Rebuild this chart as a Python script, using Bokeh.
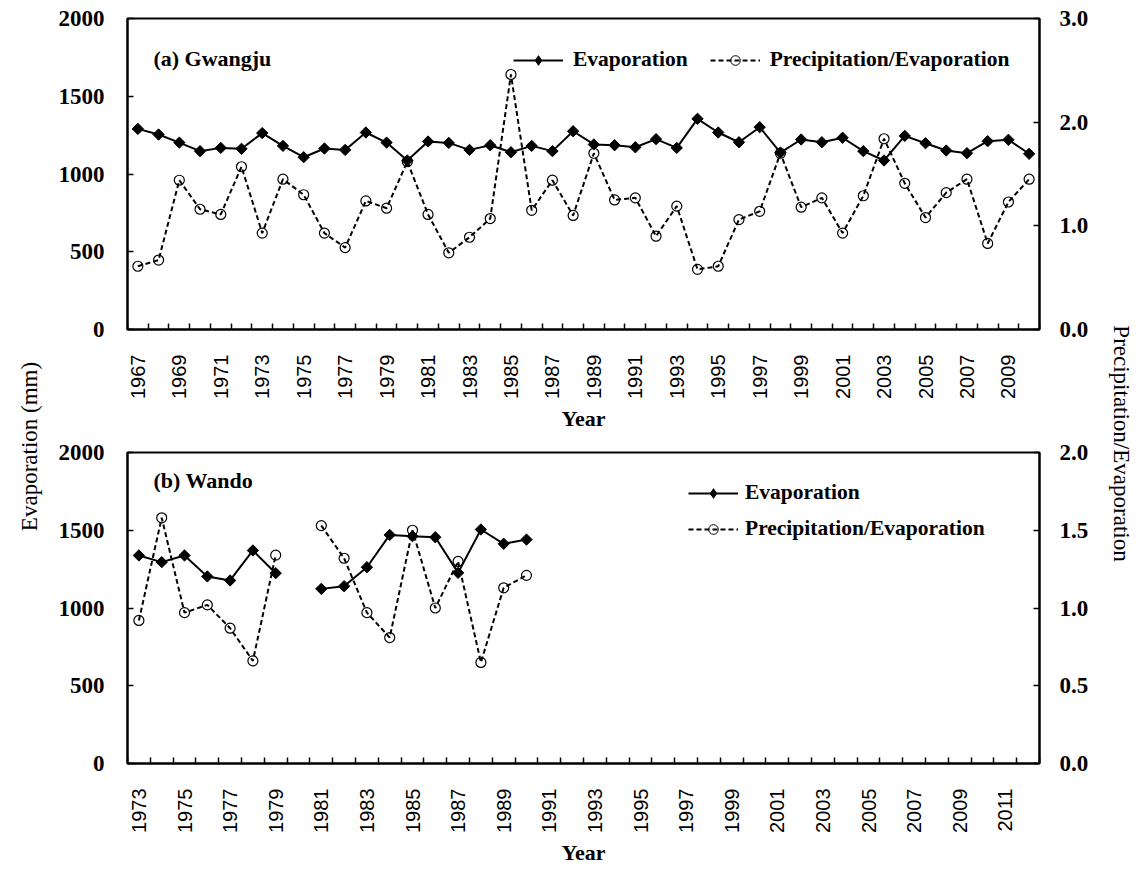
import numpy as np
from math import pi
from bokeh.plotting import figure
from bokeh.models import (Range1d, LinearAxis, FixedTicker, NumeralTickFormatter,
                          Legend, LegendItem, Label, ColumnDataSource)
from bokeh.layouts import row, column
from bokeh.embed import file_html
from bokeh.resources import INLINE

# ---------------- data ----------------
years_a = list(range(1967, 2011))
evap_a = [1290, 1254, 1202, 1147, 1168, 1162, 1263, 1181, 1108, 1164, 1155, 1267, 1202, 1087, 1209,
          1200, 1155, 1185, 1140, 1181, 1147, 1275, 1190, 1185, 1172, 1224, 1168, 1355, 1267, 1204,
          1301, 1138, 1222, 1204, 1233, 1147, 1087, 1245, 1198, 1151, 1134, 1211, 1220, 1130]
ratio_a = [0.61, 0.67, 1.44, 1.16, 1.11, 1.57, 0.93, 1.45, 1.30, 0.93, 0.79, 1.24, 1.17, 1.62, 1.11,
           0.74, 0.89, 1.07, 2.46, 1.15, 1.44, 1.10, 1.70, 1.25, 1.27, 0.90, 1.19, 0.58, 0.61, 1.06,
           1.14, 1.70, 1.18, 1.27, 0.93, 1.29, 1.84, 1.41, 1.08, 1.32, 1.45, 0.83, 1.23, 1.45]

years_b = list(range(1973, 1991))
evap_b = [1338, 1295, 1338, 1203, 1177, 1370, 1224, np.nan, 1123, 1140, 1262, 1470, 1462, 1455,
          1226, 1505, 1413, 1440]
ratio_b = [0.92, 1.58, 0.97, 1.02, 0.87, 0.66, 1.34, np.nan, 1.53, 1.32, 0.97, 0.81, 1.50, 1.00,
           1.30, 0.65, 1.13, 1.21]

label_a = "(a) Gwangju"
label_b = "(b) Wando"
ylabel_left = "Evaporation (mm)"
ylabel_right = "Precipitation/Evaporation"
xlabel = "Year"
series_names = ["Evaporation", "Precipitation/Evaporation"]

SERIF = "Liberation Serif"
SANS = "Liberation Sans"


def make_panel(years, evap, ratio, xstart, xend, ratio_max, ratio_ticks, title, title_x, title_y,
               legend_loc, legend_orient, legend_standoff, legend_spacing, height, top_border,
               bottom_border):
    p = figure(width=1045, height=height,
               x_range=Range1d(xstart - 0.5, xend + 0.5), y_range=Range1d(0, 2000),
               toolbar_location=None, output_backend="svg",
               min_border_left=72, min_border_right=61,
               min_border_top=top_border, min_border_bottom=bottom_border)
    p.extra_y_ranges = {"ratio": Range1d(0, ratio_max)}
    p.grid.visible = False
    p.outline_line_color = "black"
    p.outline_line_width = 2
    p.background_fill_color = "white"

    # x axis
    xa = p.xaxis[0]
    xa.ticker = FixedTicker(ticks=list(range(xstart, xend + 1, 2)),
                            minor_ticks=[y - 0.5 for y in range(xstart, xend + 2)])
    xa.major_tick_line_color = None
    xa.minor_tick_line_color = "black"
    xa.minor_tick_line_width = 1.5
    xa.minor_tick_in = 6
    xa.minor_tick_out = 0
    xa.axis_line_width = 2
    xa.major_label_orientation = pi / 2
    xa.major_label_text_font = SANS
    xa.major_label_text_font_size = "20px"
    xa.major_label_text_color = "black"
    xa.major_label_standoff = 19
    xa.axis_label = xlabel
    xa.axis_label_text_font = SERIF
    xa.axis_label_text_font_style = "bold"
    xa.axis_label_text_font_size = "22px"
    xa.axis_label_text_color = "black"
    xa.axis_label_standoff = 4

    # left axis
    ya = p.yaxis[0]
    ya.ticker = FixedTicker(ticks=[0, 500, 1000, 1500, 2000])
    ya.major_tick_in = 6
    ya.major_tick_out = 0
    ya.major_tick_line_width = 1.5
    ya.minor_tick_line_color = None
    ya.axis_line_width = 2
    ya.major_label_text_font = SERIF
    ya.major_label_text_font_style = "bold"
    ya.major_label_text_font_size = "23px"
    ya.major_label_text_color = "black"
    ya.major_label_standoff = 23

    # right axis
    ra = LinearAxis(y_range_name="ratio", ticker=FixedTicker(ticks=ratio_ticks),
                    formatter=NumeralTickFormatter(format="0.0"))
    ra.major_tick_in = 6
    ra.major_tick_out = 0
    ra.major_tick_line_width = 1.5
    ra.minor_tick_line_color = None
    ra.axis_line_width = 2
    ra.major_label_text_font = SERIF
    ra.major_label_text_font_style = "bold"
    ra.major_label_text_font_size = "23px"
    ra.major_label_text_color = "black"
    ra.major_label_standoff = 20
    p.add_layout(ra, "right")

    src = ColumnDataSource(dict(year=np.array(years, dtype=float),
                                evap=np.array(evap, dtype=float),
                                ratio=np.array(ratio, dtype=float)))
    l1 = p.line("year", "evap", source=src, line_color="black", line_width=2)
    p.scatter("year", "evap", source=src, marker="square", angle=pi / 4, size=8,
              fill_color="black", line_color="black")
    l2 = p.line("year", "ratio", source=src, y_range_name="ratio", line_color="black",
                line_width=2, line_dash="5 3")
    p.scatter("year", "ratio", source=src, y_range_name="ratio", marker="circle", size=10,
              fill_color=None, line_color="black", line_width=1.2)
    # legend-only marker glyphs (not drawn in the plot area)
    k1 = p.scatter("year", "evap", source=src, marker="diamond", size=11,
                   fill_color="black", line_color="black", visible=False)
    k2 = p.scatter("year", "ratio", source=src, y_range_name="ratio", marker="circle", size=8,
                   fill_color=None, line_color="black", line_width=1, visible=False)

    legend = Legend(items=[LegendItem(label=series_names[0], renderers=[l1, k1]),
                           LegendItem(label=series_names[1], renderers=[l2, k2])],
                    location=legend_loc, orientation=legend_orient,
                    glyph_width=50, glyph_height=24, label_height=24,
                    label_standoff=legend_standoff, spacing=legend_spacing,
                    padding=0, margin=0, border_line_color=None,
                    background_fill_alpha=0,
                    label_text_font=SERIF, label_text_font_style="bold",
                    label_text_font_size="21.5px", label_text_color="black")
    p.add_layout(legend, "center")

    p.add_layout(Label(x=title_x, y=title_y, text=title, text_font=SERIF,
                       text_font_style="bold", text_font_size="22px",
                       text_baseline="middle", text_color="black"))
    return p


top = make_panel(years_a, evap_a, ratio_a, 1967, 2010, 3.0, [0, 1, 2, 3], label_a, 1967.75, 1745,
                 (386, 257), "horizontal", 10, 22, 439, 18, 110)
bottom = make_panel(years_b, evap_b, ratio_b, 1973, 2012, 2.0, [0, 0.5, 1, 1.5, 2], label_b,
                    1973.64, 1818, (561, 222), "vertical", 7, 11, 434, 13, 110)

TOTAL_H = 439 + 434

lf = figure(width=55, height=TOTAL_H, x_range=(0, 1), y_range=(0, 1), toolbar_location=None,
            output_backend="svg", min_border=0, x_axis_location=None, y_axis_location=None)
lf.grid.visible = False
lf.outline_line_color = None
lf.add_layout(Label(x=29, y=TOTAL_H - 446, x_units="screen", y_units="screen", text=ylabel_left,
                    angle=pi / 2, text_align="center", text_baseline="middle",
                    text_font=SERIF, text_font_size="23px", text_color="black"))

rf = figure(width=40, height=TOTAL_H, x_range=(0, 1), y_range=(0, 1), toolbar_location=None,
            output_backend="svg", min_border=0, x_axis_location=None, y_axis_location=None)
rf.grid.visible = False
rf.outline_line_color = None
rf.add_layout(Label(x=21, y=TOTAL_H - 443, x_units="screen", y_units="screen", text=ylabel_right,
                    angle=-pi / 2, text_align="center", text_baseline="middle",
                    text_font=SERIF, text_font_size="23px", text_color="black"))

layout = row(lf, column(top, bottom), rf)
open("out.html", "w").write(file_html(layout, INLINE))
